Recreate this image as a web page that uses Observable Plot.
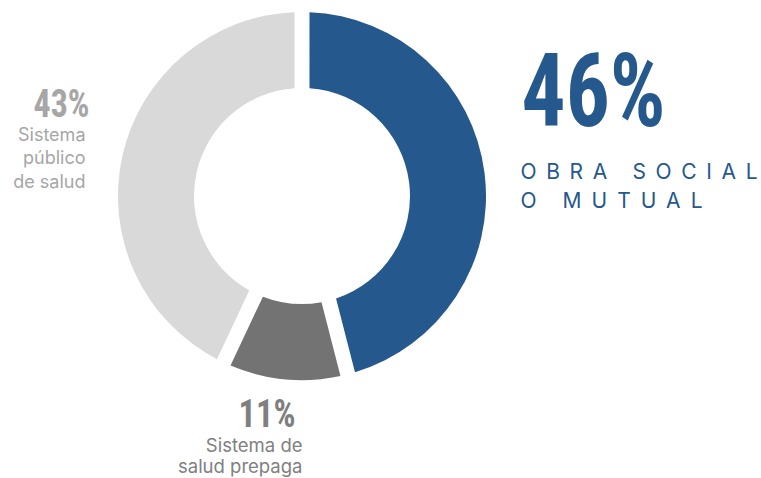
<!DOCTYPE html>
<html>
<head>
<meta charset="utf-8">
<script src="https://cdn.jsdelivr.net/npm/d3@7"></script>
<script src="https://cdn.jsdelivr.net/npm/@observablehq/plot@0.6"></script>
<style>
  html, body { margin: 0; padding: 0; background: #fff; }
  #chart { width: 761px; height: 478px; }
</style>
</head>
<body>
<div id="chart"></div>
<script>
// ---- data ----
const categories = ["Obra social o mutual", "Sistema de salud prepaga", "Sistema público de salud"];
const values = [46, 11, 43];
const percentLabels = ["46%", "11%", "43%"];
const descLabels = ["OBRA SOCIAL\nO MUTUAL", "Sistema de\nsalud prepaga", "Sistema\npúblico\nde salud"];
const sliceColors = ["#25588c", "#737373", "#d9d9d9"];

// ---- layout (pixels) ----
const W = 761, H = 478;
const cx = 302, cy = 196, rOuter = 184, rInner = 108, gap = 15;

const slices = categories.map((c, i) => ({category: c, value: values[i], color: sliceColors[i]}));
const pie = d3.pie().value(d => d.value).sort(null);
const arcs = pie(slices);
const arcGen = d3.arc().innerRadius(rInner).outerRadius(rOuter).padAngle(gap / rOuter).padRadius(rOuter);

function donut(index, scales) {
  const g = d3.create("svg:g")
    .attr("transform", `translate(${scales.x(cx)},${scales.y(cy)})`);
  g.selectAll("path").data(arcs).join("path")
    .attr("d", arcGen)
    .attr("fill", d => d.data.color);
  return g.node();
}

const bigData = [{x: 521, y: 125, t: percentLabels[0]}];
const medData = [
  {x: 295, y: 426, t: percentLabels[1], c: "#7f7f7f"},
  {x: 89, y: 116, t: percentLabels[2], c: "#a6a6a6"}
];
// spaced caption: one text element per line so each can be spread evenly
const blueLines = descLabels[0].split("\n");
const blueBaselines = [178, 207];
const blueLengths = [237, 182];
const descBlue = blueLines.map((t, i) => ({x: 520, y: blueBaselines[i], t}));
const descGrayBottom = [{x: 302, y: 472, t: descLabels[1], c: "#808080"}];
const descGrayLeft = [{x: 85, y: 187, t: descLabels[2], c: "#a6a6a6"}];

const numFont = "'Liberation Sans Narrow', 'Roboto Condensed', Roboto, sans-serif";
const txtFont = "Inter, Roboto, sans-serif";

const chart = Plot.plot({
  width: W,
  height: H,
  margin: 0,
  x: {domain: [0, W], axis: null},
  y: {domain: [0, H], range: [0, H], axis: null},
  style: {background: "#fff"},
  marks: [
    donut,
    Plot.text(bigData, {x: "x", y: "y", text: "t", textAnchor: "start", lineAnchor: "bottom",
      fill: sliceColors[0], fontSize: 102, fontWeight: 700, fontFamily: numFont}),
    Plot.text(medData, {x: "x", y: "y", text: "t", textAnchor: "end", lineAnchor: "bottom",
      fill: "c", fontSize: 38, fontWeight: 700, fontFamily: numFont}),
    Plot.text(descBlue, {x: "x", y: "y", text: "t", textAnchor: "start", lineAnchor: "bottom",
      fill: sliceColors[0], fontSize: 21, fontFamily: txtFont}),
    Plot.text(descGrayBottom, {x: "x", y: "y", text: "t", textAnchor: "end", lineAnchor: "bottom",
      fill: "c", fontSize: 18.5, lineHeight: 1.12, fontFamily: txtFont}),
    Plot.text(descGrayLeft, {x: "x", y: "y", text: "t", textAnchor: "end", lineAnchor: "bottom",
      fill: "c", fontSize: 18, lineHeight: 1.28, fontFamily: txtFont})
  ]
});

document.getElementById("chart").appendChild(chart);

// style tweaks: condensed numbers and evenly spaced caption
const numWidths = {"46%": 144, "11%": 57, "43%": 56};
d3.select(chart).selectAll("text").each(function() {
  const el = d3.select(this);
  const t = this.textContent;
  if (numWidths[t] !== undefined) {
    el.attr("textLength", numWidths[t]).attr("lengthAdjust", "spacingAndGlyphs");
  }
  const bi = blueLines.indexOf(t);
  if (bi >= 0) {
    el.attr("textLength", blueLengths[bi]).attr("lengthAdjust", "spacing");
  }
});
</script>
</body>
</html>
